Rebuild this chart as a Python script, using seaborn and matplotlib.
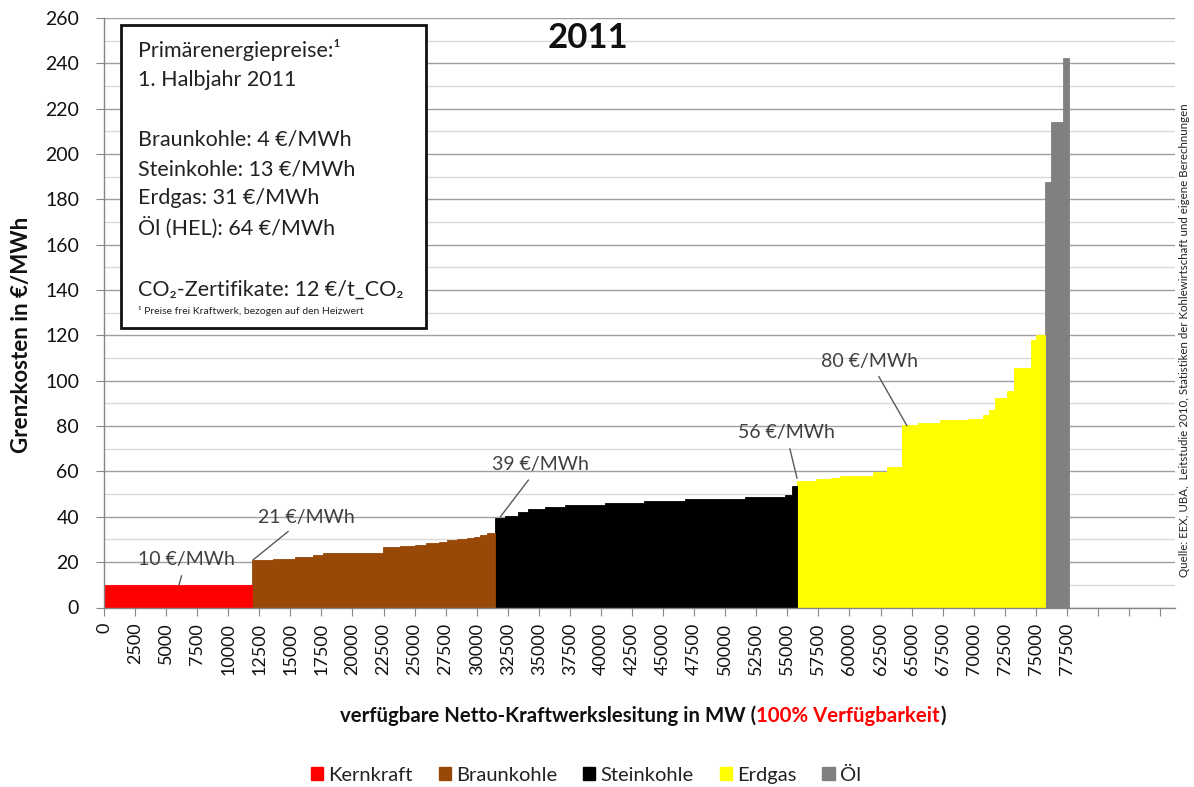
import numpy as np
import pandas as pd
import seaborn as sns
import matplotlib
matplotlib.use("Agg")
import matplotlib.pyplot as plt
from matplotlib.patches import Rectangle, Patch
from matplotlib.ticker import MultipleLocator

# ---------------- data ----------------
types = ["Kernkraft", "Braunkohle", "Steinkohle", "Erdgas", "Öl"]
colors = ["#FF0000", "#984807", "#000000", "#FFFF00", "#808080"]

kern_mw = [0]
kern_cost = [10.0]

braun_mw = [11950, 13600, 15350, 16850, 17650, 20000, 22450, 23800, 25000,
            25950, 27000, 27600, 28400, 29200, 29800, 30300, 30800]
braun_cost = [21.0, 21.3, 22.2, 23.2, 24.0, 24.1, 26.6, 27.3, 27.6,
              28.4, 29.0, 29.6, 30.1, 30.6, 31.2, 31.8, 32.9]

stein_mw = [31500, 32300, 33350, 34150, 35500, 37100, 40300, 43500, 46750,
            51600, 54800, 55350]
stein_cost = [39.4, 40.5, 42.0, 43.5, 44.2, 45.2, 46.1, 47.0, 47.9,
              48.6, 49.7, 53.8]

gas_mw = [55800, 57300, 58500, 59250, 61900, 63000, 64200, 65500, 67300,
          69500, 70750, 71200, 71700, 72650, 73250, 74650, 75050]
gas_cost = [56.0, 56.5, 57.2, 58.2, 59.7, 61.9, 80.6, 81.4, 82.6,
            83.2, 84.7, 86.9, 92.4, 95.7, 105.7, 117.8, 120.0]

oel_mw = [75740, 76200, 77200]
oel_cost = [187.5, 214.2, 242.5]

end_mw = 77700

tick_values = list(range(0, 85001, 2500))
tick_labels = [str(v) if v <= 77500 else "" for v in tick_values]

annotations = [  # label, point (MW, cost), text position (MW, cost)
    ("10 €/MWh", (6040, 10.0), (6600, 21.0)),
    ("21 €/MWh", (12000, 21.0), (16260, 39.9)),
    ("39 €/MWh", (31900, 40.0), (35090, 62.9)),
    ("56 €/MWh", (55780, 57.0), (54890, 77.0)),
    ("80 €/MWh", (64630, 80.1), (61650, 108.7)),
]

# ---------------- build table ----------------
starts = kern_mw + braun_mw + stein_mw + gas_mw + oel_mw
costs = kern_cost + braun_cost + stein_cost + gas_cost + oel_cost
typ = (["Kernkraft"] * len(kern_mw) + ["Braunkohle"] * len(braun_mw) +
       ["Steinkohle"] * len(stein_mw) + ["Erdgas"] * len(gas_mw) +
       ["Öl"] * len(oel_mw))
edges = starts + [end_mw]
mids = [(edges[i] + edges[i + 1]) / 2 for i in range(len(starts))]
df = pd.DataFrame({"mw": mids, "cost": costs, "typ": typ})

# ---------------- figure ----------------
sns.set_style("white")
plt.rcParams["font.family"] = ["Lato", "DejaVu Sans"]
W, H = 1194, 787
fig = plt.figure(figsize=(W / 100, H / 100), dpi=100)
ax = fig.add_axes([104 / W, 1 - 607.5 / H, (1175 - 104) / W, (607.5 - 18) / H])

sns.histplot(data=df, x="mw", weights="cost", hue="typ", hue_order=types,
             palette=colors, bins=edges, multiple="layer", element="bars",
             fill=True, alpha=1, linewidth=0, legend=False, ax=ax)
for p in ax.patches:
    if p.get_height() > 0:
        p.set_edgecolor(p.get_facecolor())
        p.set_linewidth(0.6)
    else:
        p.set_linewidth(0)

ax.set_xlim(0, 86200)
ax.set_ylim(0, 260)
ax.set_xlabel("")
ax.set_ylabel("")

ax.yaxis.set_major_locator(MultipleLocator(20))
ax.yaxis.set_minor_locator(MultipleLocator(10))
ax.grid(axis="y", which="major", color="#a0a0a0", lw=1)
ax.grid(axis="y", which="minor", color="#d9d9d9", lw=1)
ax.grid(axis="x", visible=False)
ax.set_axisbelow(True)

ax.set_xticks(tick_values)
ax.set_xticklabels(tick_labels, rotation=90, fontsize=13, color="#111111")
ax.tick_params(axis="x", which="major", direction="out", length=6,
               color="#868686", pad=5, bottom=True)
ax.tick_params(axis="y", which="major", direction="out", length=6,
               color="#868686", labelsize=14, labelcolor="#111111", left=True,
               pad=12)
ax.tick_params(axis="y", which="minor", length=0)
for s in ["top", "right"]:
    ax.spines[s].set_visible(False)
for s in ["left", "bottom"]:
    ax.spines[s].set_color("#868686")
    ax.spines[s].set_linewidth(1)

# annotations
for lab, xy, xyt in annotations:
    ax.annotate(lab, xy=xy, xytext=xyt, textcoords="data", ha="center",
                va="center", fontsize=14, color="#404040",
                arrowprops=dict(arrowstyle="-", color="#595959", lw=1,
                                shrinkA=3, shrinkB=0))


def fx(x):
    return x / W


def fy(y):
    return 1 - y / H


# title
fig.text(fx(588), fy(38), "2011", fontsize=25, weight="bold", ha="center",
         va="center", color="#111111")

# y label
fig.text(fx(22), fy(335), "Grenzkosten in €/MWh", rotation=90, fontsize=16,
         weight="bold", ha="center", va="center", color="#111111")

# info box
box = Rectangle((fx(121), fy(328)), fx(426) - fx(121), fy(25) - fy(328),
                transform=fig.transFigure, facecolor="white",
                edgecolor="#111111", lw=2, zorder=5)
fig.add_artist(box)
box_lines = [
    ("Primärenergiepreise:¹", 50),
    ("1. Halbjahr 2011", 80),
    ("Braunkohle: 4 €/MWh", 140),
    ("Steinkohle: 13 €/MWh", 169),
    ("Erdgas: 31 €/MWh", 198),
    ("Öl (HEL): 64 €/MWh", 228),
    ("CO₂-Zertifikate: 12 €/t_CO₂", 290),
]
for t, y in box_lines:
    fig.text(fx(138), fy(y), t, fontsize=15.5, ha="left", va="center",
             color="#222222", zorder=6)
fig.text(fx(138), fy(311), "¹ Preise frei Kraftwerk, bezogen auf den Heizwert",
         fontsize=7.5, ha="left", va="center", color="#222222", zorder=6)

# source text
fig.text(fx(1184), fy(340),
         "Quelle: EEX, UBA,  Leitstudie 2010, Statistiken der Kohlewirtschaft und eigene Berechnungen",
         rotation=90, fontsize=8.3, ha="center", va="center", color="#222222")

# x label with red part
renderer = fig.canvas.get_renderer()
parts = [("verfügbare Netto-Kraftwerkslesitung in MW (", "#111111"),
         ("100% Verfügbarkeit", "#FF0000"), (")", "#111111")]
txts = []
widths = []
for s, c in parts:
    t = fig.text(0, fy(716), s, fontsize=14.7, weight="bold", color=c,
                 ha="left", va="center")
    widths.append(t.get_window_extent(renderer).width)
    txts.append(t)
total = sum(widths)
x0 = 643 - total / 2
for t, w in zip(txts, widths):
    t.set_x(fx(x0))
    x0 += w

# legend
handles = [Patch(facecolor=c, edgecolor=c, label=l) for l, c in zip(types, colors)]
fig.legend(handles=handles, loc="center", bbox_to_anchor=(fx(586), fy(775)),
           ncol=5, frameon=False, fontsize=14.5, handlelength=0.6,
           handleheight=0.6, handletextpad=0.25, columnspacing=1.3,
           labelcolor="#222222")

fig.savefig("out.png", dpi=100)
